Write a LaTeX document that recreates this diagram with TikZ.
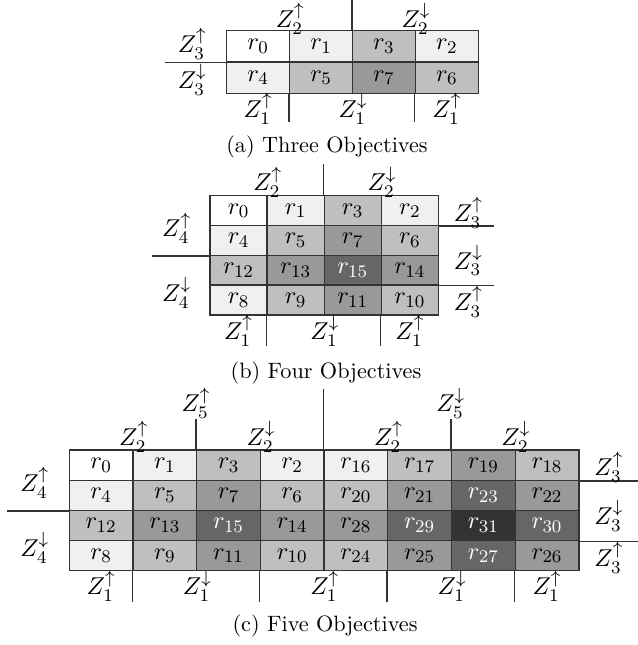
\documentclass[tikz,border=0pt]{standalone}
\usepackage{amsmath,amssymb}
\usepackage{xcolor}
\usepackage{tikz}
\usetikzlibrary{positioning}
\definecolor{lvl0}{gray}{1}
\definecolor{lvl1}{gray}{0.94}
\definecolor{lvl2}{gray}{0.75}
\definecolor{lvl3}{gray}{0.6}
\definecolor{lvl4}{gray}{0.4}
\definecolor{lvl5}{gray}{0.2}
\colorlet{txt0}{black}
\colorlet{txt1}{black}
\colorlet{txt2}{black}
\colorlet{txt3}{black}
\colorlet{txt4}{white}
\colorlet{txt5}{white}
\newcommand{\kmap}[7]{%
  \foreach \rc/\rl [count=\row from 0] in {#7}{%
    \foreach \cc/\cl [count=\col from 0] in {#6}{%
      \pgfmathtruncatemacro{\idx}{\rc+\cc}%
      \pgfmathtruncatemacro{\lv}{\rl+\cl}%
      \node[cell, minimum width=#4*0.45pt, minimum height=#5*0.45pt, fill=lvl\lv, text=txt\lv]
        (#1-\row-\col) at ({#2+(\col+0.5)*#4},{#3+(\row+0.5)*#5}) {$r_{\idx}$};
    }
  }
}

\begin{document}
\begin{tikzpicture}[
    x=0.45pt, y=-0.45pt,
    cell/.style={draw=black!80, line width=0.6pt, inner sep=0pt, font=\fontsize{11}{13}\selectfont},
    sep/.style={draw=black!80, line width=0.6pt},
    zlab/.style={inner sep=0.5pt, font=\fontsize{11}{13}\selectfont},
    captxt/.style={inner sep=0pt}
]
\useasboundingbox (0,0) rectangle (637,645);

\kmap{a}{226.7}{30.7}{62.9}{31.3}{0/0,1/1,3/2,2/1}{0/0,4/1}
\draw[sep] (a-0-2.north west) -- ++(0,-30.7) coordinate (a-top);
\node[zlab, above=-2.5pt of a-0-0.north east] (a-z2u) {$Z_2^{\uparrow}$};
\node[zlab, above=-2.5pt of a-0-2.north east] (a-z2d) {$Z_2^{\downarrow}$};
\draw[sep] (a-0-0.south west) -- ++(-60.7,0) coordinate (a-left);
\node[zlab, left=8pt of a-0-0.west, yshift=1pt] (a-z3u) {$Z_3^{\uparrow}$};
\node[zlab, left=8pt of a-1-0.west, yshift=-1pt] (a-z3d) {$Z_3^{\downarrow}$};
\foreach \k in {1,3}
  \draw[sep] (a-1-\k.south west) -- ++(0,28.4);
\node[zlab, below=-1pt of a-1-0.south] (a-z1u) {$Z_1^{\uparrow}$};
\node[zlab, below=-1pt of a-1-1.south east] (a-z1d) {$Z_1^{\downarrow}$};
\node[zlab, below=-1pt of a-1-3.south] (a-z1v) {$Z_1^{\uparrow}$};
\node[captxt] (a-cap) at (327,146.7) {(a) Three Objectives};

\kmap{b}{210}{195.7}{57.1}{29.8}{0/0,1/1,3/2,2/1}{0/0,4/1,12/2,8/1}
\draw[sep] (b-0-2.north west) -- ++(0,-30.7) coordinate (b-top);
\node[zlab, above=-2pt of b-0-0.north east] (b-z2u) {$Z_2^{\uparrow}$};
\node[zlab, above=-2pt of b-0-2.north east] (b-z2d) {$Z_2^{\downarrow}$};
\draw[sep] (b-1-0.south west) -- ++(-57.7,0) coordinate (b-left);
\node[zlab, left=7.5pt of b-0-0.south west, yshift=-1pt] (b-z4u) {$Z_4^{\uparrow}$};
\node[zlab, left=7.5pt of b-2-0.south west, yshift=-3pt] (b-z4d) {$Z_4^{\downarrow}$};
\foreach \k in {0,2}
  \draw[sep] (b-\k-3.south east) -- ++(55,0);
\node[zlab, right=6pt of b-0-3.east, yshift=-1pt] (b-z3u) {$Z_3^{\uparrow}$};
\node[zlab, right=6pt of b-1-3.south east, yshift=-2pt] (b-z3d) {$Z_3^{\downarrow}$};
\node[zlab, right=6pt of b-3-3.east, yshift=-1pt] (b-z3v) {$Z_3^{\uparrow}$};
\foreach \k in {1,3}
  \draw[sep] (b-3-\k.south west) -- ++(0,30);
\node[zlab, below=-1pt of b-3-0.south] (b-z1u) {$Z_1^{\uparrow}$};
\node[zlab, below=-1pt of b-3-1.south east] (b-z1d) {$Z_1^{\downarrow}$};
\node[zlab, below=-1pt of b-3-3.south] (b-z1v) {$Z_1^{\uparrow}$};
\node[captxt] (b-cap) at (326,373.3) {(b) Four Objectives};

\kmap{c}{69.3}{450}{63.7}{30.2}{0/0,1/1,3/2,2/1,16/1,17/2,19/3,18/2}{0/0,4/1,12/2,8/1}
\draw[sep] (c-0-4.north west) -- ++(0,-60.5) coordinate (c-top);
\draw[sep] (c-0-2.north west) -- ++(0,-30) coordinate (c-t5u);
\draw[sep] (c-0-6.north west) -- ++(0,-30) coordinate (c-t5d);
\node[zlab, above=-0.5pt of c-t5u] (c-z5u) {$Z_5^{\uparrow}$};
\node[zlab, above=-0.5pt of c-t5d] (c-z5d) {$Z_5^{\downarrow}$};
\node[zlab, above=-2pt of c-0-0.north east] (c-z2u) {$Z_2^{\uparrow}$};
\node[zlab, above=-2pt of c-0-2.north east] (c-z2d) {$Z_2^{\downarrow}$};
\node[zlab, above=-2pt of c-0-4.north east] (c-z2v) {$Z_2^{\uparrow}$};
\node[zlab, above=-2pt of c-0-6.north east] (c-z2w) {$Z_2^{\downarrow}$};
\draw[sep] (c-1-0.south west) -- ++(-62,0) coordinate (c-left);
\node[zlab, left=8pt of c-0-0.south west, yshift=-1pt] (c-z4u) {$Z_4^{\uparrow}$};
\node[zlab, left=8pt of c-2-0.south west, yshift=-3pt] (c-z4d) {$Z_4^{\downarrow}$};
\foreach \k in {0,2}
  \draw[sep] (c-\k-7.south east) -- ++(58,0);
\node[zlab, right=6pt of c-0-7.east, yshift=-1pt] (c-z3u) {$Z_3^{\uparrow}$};
\node[zlab, right=6pt of c-1-7.south east, yshift=-2pt] (c-z3d) {$Z_3^{\downarrow}$};
\node[zlab, right=6pt of c-3-7.east, yshift=-1pt] (c-z3v) {$Z_3^{\uparrow}$};
\foreach \k in {1,3,5,7}
  \draw[sep] (c-3-\k.south west) -- ++(0,31);
\node[zlab, below=-1pt of c-3-0.south] (c-z1u) {$Z_1^{\uparrow}$};
\node[zlab, below=-1pt of c-3-1.south east] (c-z1d) {$Z_1^{\downarrow}$};
\node[zlab, below=-1pt of c-3-3.south east] (c-z1v) {$Z_1^{\uparrow}$};
\node[zlab, below=-1pt of c-3-5.south east] (c-z1w) {$Z_1^{\downarrow}$};
\node[zlab, below=-1pt of c-3-7.south] (c-z1x) {$Z_1^{\uparrow}$};
\node[captxt] (c-cap) at (325,626) {(c) Five Objectives};
\end{tikzpicture}
\end{document}
